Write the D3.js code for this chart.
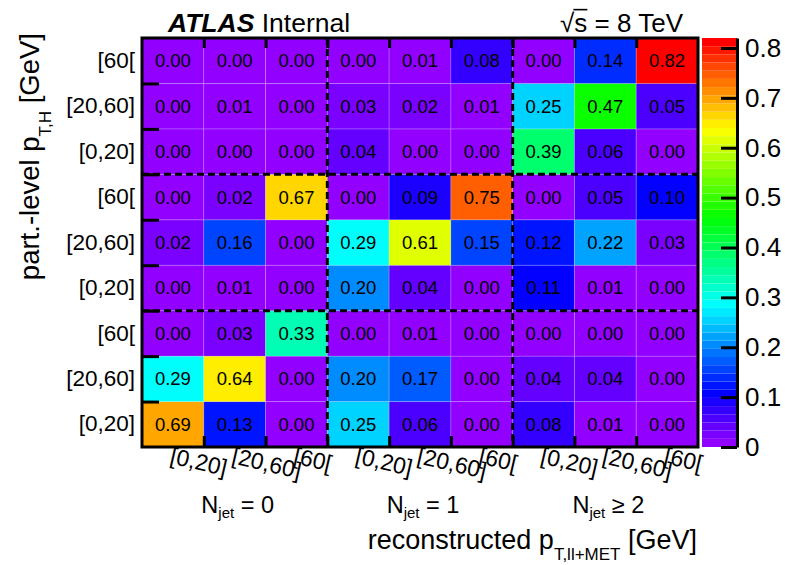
<!DOCTYPE html>
<html>
<head>
<meta charset="utf-8">
<script src="https://cdn.jsdelivr.net/npm/d3@7"></script>
<style>
  body { margin: 0; background: #fff; }
  text { font-family: "Liberation Sans", Arial, Helvetica, sans-serif; fill: #000; }
</style>
</head>
<body>
<svg id="chart" width="785" height="565"></svg>
<script>
// pT bins used on both axes, repeated for each jet multiplicity
const ptBins = ["[0,20]", "[20,60]", "[60["];
// jet multiplicity categories (text after "N_jet")
const jetBins = ["= 0", "= 1", "\u2265 2"];
// colour-bar tick values
const zTicks = [0, 0.1, 0.2, 0.3, 0.4, 0.5, 0.6, 0.7, 0.8];

// Migration fractions: rows = particle-level bin (bottom to top),
// columns = reconstructed bin (left to right)
const njet0_pt0  = [0.69, 0.13, 0.00, 0.25, 0.06, 0.00, 0.08, 0.01, 0.00];
const njet0_pt20 = [0.29, 0.64, 0.00, 0.20, 0.17, 0.00, 0.04, 0.04, 0.00];
const njet0_pt60 = [0.00, 0.03, 0.33, 0.00, 0.01, 0.00, 0.00, 0.00, 0.00];
const njet1_pt0  = [0.00, 0.01, 0.00, 0.20, 0.04, 0.00, 0.11, 0.01, 0.00];
const njet1_pt20 = [0.02, 0.16, 0.00, 0.29, 0.61, 0.15, 0.12, 0.22, 0.03];
const njet1_pt60 = [0.00, 0.02, 0.67, 0.00, 0.09, 0.75, 0.00, 0.05, 0.10];
const njet2_pt0  = [0.00, 0.00, 0.00, 0.04, 0.00, 0.00, 0.39, 0.06, 0.00];
const njet2_pt20 = [0.00, 0.01, 0.00, 0.03, 0.02, 0.01, 0.25, 0.47, 0.05];
const njet2_pt60 = [0.00, 0.00, 0.00, 0.00, 0.01, 0.08, 0.00, 0.14, 0.82];

const migration = [njet0_pt0, njet0_pt20, njet0_pt60,
                   njet1_pt0, njet1_pt20, njet1_pt60,
                   njet2_pt0, njet2_pt20, njet2_pt60];

const nBins = 9;
const frame = { left: 142, right: 698, top: 38, bottom: 447 };
const svg = d3.select("#chart");

// Scales: band scales for the cells, linear scales for the bin edges
const x = d3.scaleBand().domain(d3.range(nBins)).range([frame.left, frame.right]);
const y = d3.scaleBand().domain(d3.range(nBins)).range([frame.bottom, frame.top]);
const xEdge = d3.scaleLinear().domain([0, nBins]).range([frame.left, frame.right]);
const yEdge = d3.scaleLinear().domain([0, nBins]).range([frame.bottom, frame.top]);

// Rainbow palette (violet -> red), 50 levels of constant lightness
const zMax = d3.max(migration.flat());
const nColors = 50;
const palette = d3.range(nColors).map(k => d3.hsl(280 - (k + 1) * 280 / nColors, 1, 0.5).formatHex());
const color = d3.scaleQuantize().domain([0, zMax]).range(palette);

// ---- cells ----
const cells = migration.flatMap((row, i) => row.map((v, j) => ({ i, j, v })));
svg.append("g").selectAll("rect").data(cells).join("rect")
  .attr("x", d => x(d.j)).attr("y", d => y(d.i))
  .attr("width", x.bandwidth()).attr("height", y.bandwidth())
  .attr("fill", d => color(d.v))
  .attr("stroke", "#fff").attr("stroke-opacity", 0.18).attr("stroke-width", 1);

svg.append("g").selectAll("text").data(cells).join("text")
  .attr("x", d => x(d.j) + x.bandwidth() / 2)
  .attr("y", d => y(d.i) + y.bandwidth() / 2)
  .attr("dy", "0.35em").attr("text-anchor", "middle")
  .style("font-size", "18.5px")
  .text(d => d.v.toFixed(2));

// ---- dashed separators between jet multiplicities ----
const groupEdges = [3, 6];
const sep = svg.append("g").attr("stroke", "#000").attr("stroke-width", 3).attr("stroke-dasharray", "7,4");
sep.selectAll("line.v").data(groupEdges).join("line").attr("class", "v")
  .attr("x1", d => xEdge(d)).attr("x2", d => xEdge(d))
  .attr("y1", frame.top).attr("y2", frame.bottom);
sep.selectAll("line.h").data(groupEdges).join("line").attr("class", "h")
  .attr("y1", d => yEdge(d)).attr("y2", d => yEdge(d))
  .attr("x1", frame.left).attr("x2", frame.right);

// ---- bin-edge ticks on frame ----
const edgeTicks = d3.range(1, nBins);
function styleTicks(g) {
  g.select(".domain").remove();
  g.selectAll(".tick line").attr("stroke", "#000").attr("stroke-width", 3);
}
svg.append("g").attr("transform", `translate(0,${frame.bottom})`)
  .call(d3.axisBottom(xEdge).tickValues(edgeTicks).tickSizeInner(-11).tickSizeOuter(0).tickFormat(""))
  .call(styleTicks);
svg.append("g").attr("transform", `translate(0,${frame.top})`)
  .call(d3.axisTop(xEdge).tickValues(edgeTicks).tickSizeInner(-10).tickSizeOuter(0).tickFormat(""))
  .call(styleTicks);
svg.append("g").attr("transform", `translate(${frame.left},0)`)
  .call(d3.axisLeft(yEdge).tickValues(edgeTicks).tickSizeInner(-17).tickSizeOuter(0).tickFormat(""))
  .call(styleTicks);

// ---- y bin labels ----
const yLab = svg.append("g").attr("transform", `translate(${frame.left},0)`)
  .call(d3.axisLeft(y).tickFormat(i => ptBins[i % 3]).tickSize(0).tickPadding(7));
yLab.select(".domain").remove();
yLab.selectAll("text").style("font-size", "22.5px").style("font-family", null).attr("fill", "#000");

// ---- x bin labels (tilted) ----
svg.append("g").selectAll("text").data(d3.range(nBins)).join("text")
  .attr("transform", i => `translate(${x(i) + x.bandwidth() / 2 - 4},463) rotate(13)`)
  .style("font-size", "23px")
  .text(i => ptBins[i % 3]);

// ---- jet multiplicity labels ----
const jetLab = svg.append("g").selectAll("text").data(jetBins).join("text")
  .attr("x", (d, k) => (xEdge(3 * k) + xEdge(3 * k + 3)) / 2 + 3)
  .attr("y", 513)
  .attr("text-anchor", "middle")
  .style("font-size", "23.5px");
jetLab.append("tspan").text("N");
jetLab.append("tspan").attr("dy", 5).style("font-size", "15px").text("jet");
jetLab.append("tspan").attr("dy", -5).text(d => " " + d);

// ---- frame ----
svg.append("rect")
  .attr("x", frame.left).attr("y", frame.top)
  .attr("width", frame.right - frame.left).attr("height", frame.bottom - frame.top)
  .attr("fill", "none").attr("stroke", "#000").attr("stroke-width", 3);

// ---- axis titles ----
const xTitle = svg.append("text")
  .attr("x", 697).attr("y", 549).attr("text-anchor", "end")
  .style("font-size", "27px");
xTitle.append("tspan").text("reconstructed p");
xTitle.append("tspan").attr("dy", 11).style("font-size", "17px").text("T,ll+MET");
xTitle.append("tspan").attr("dy", -11).text(" [GeV]");

const yTitle = svg.append("text")
  .attr("transform", "translate(39,33) rotate(-90)")
  .attr("text-anchor", "end")
  .style("font-size", "27.5px");
yTitle.append("tspan").text("part.-level p");
yTitle.append("tspan").attr("dy", 12).style("font-size", "17px").text("T,H");
yTitle.append("tspan").attr("dy", -12).text(" [GeV]");

// ---- colour bar ----
const bar = { x0: 702, x1: 737 };
const z = d3.scaleLinear().domain([0, zMax]).range([frame.bottom, frame.top]);
svg.append("g").selectAll("rect").data(palette).join("rect")
  .attr("x", bar.x0).attr("width", bar.x1 - bar.x0)
  .attr("y", (c, k) => z((k + 1) * zMax / nColors))
  .attr("height", (c, k) => z(k * zMax / nColors) - z((k + 1) * zMax / nColors))
  .attr("fill", c => c);

const zAxis = svg.append("g").attr("transform", `translate(${bar.x1},0)`)
  .call(d3.axisRight(z).tickValues(zTicks).tickSizeInner(-16).tickSizeOuter(0).tickPadding(8)
    .tickFormat(d => d === 0 ? "0" : d3.format(".1f")(d)));
zAxis.select(".domain").attr("stroke", "#000").attr("stroke-width", 3);
zAxis.selectAll(".tick line").attr("stroke", "#000").attr("stroke-width", 3);
zAxis.selectAll("text").style("font-size", "26px").style("font-family", null).attr("fill", "#000");

// ---- header labels ----
const atlas = svg.append("text").attr("x", 168).attr("y", 32).style("font-size", "26.5px");
atlas.append("tspan").style("font-weight", "bold").style("font-style", "italic").text("ATLAS");
atlas.append("tspan").text(" Internal");

const energy = svg.append("text").attr("x", 683).attr("y", 32)
  .attr("text-anchor", "end").style("font-size", "26px")
  .text("\u221As = 8 TeV");
// overbar of the square root, spanning the "s"
const node = energy.node();
const rootBox = node.getExtentOfChar(0);
const sBox = node.getExtentOfChar(1);
svg.append("line")
  .attr("x1", rootBox.x + rootBox.width - 1).attr("x2", sBox.x + sBox.width)
  .attr("y1", 32 - 0.86 * 26).attr("y2", 32 - 0.86 * 26)
  .attr("stroke", "#000").attr("stroke-width", 1.6);
</script>
</body>
</html>
